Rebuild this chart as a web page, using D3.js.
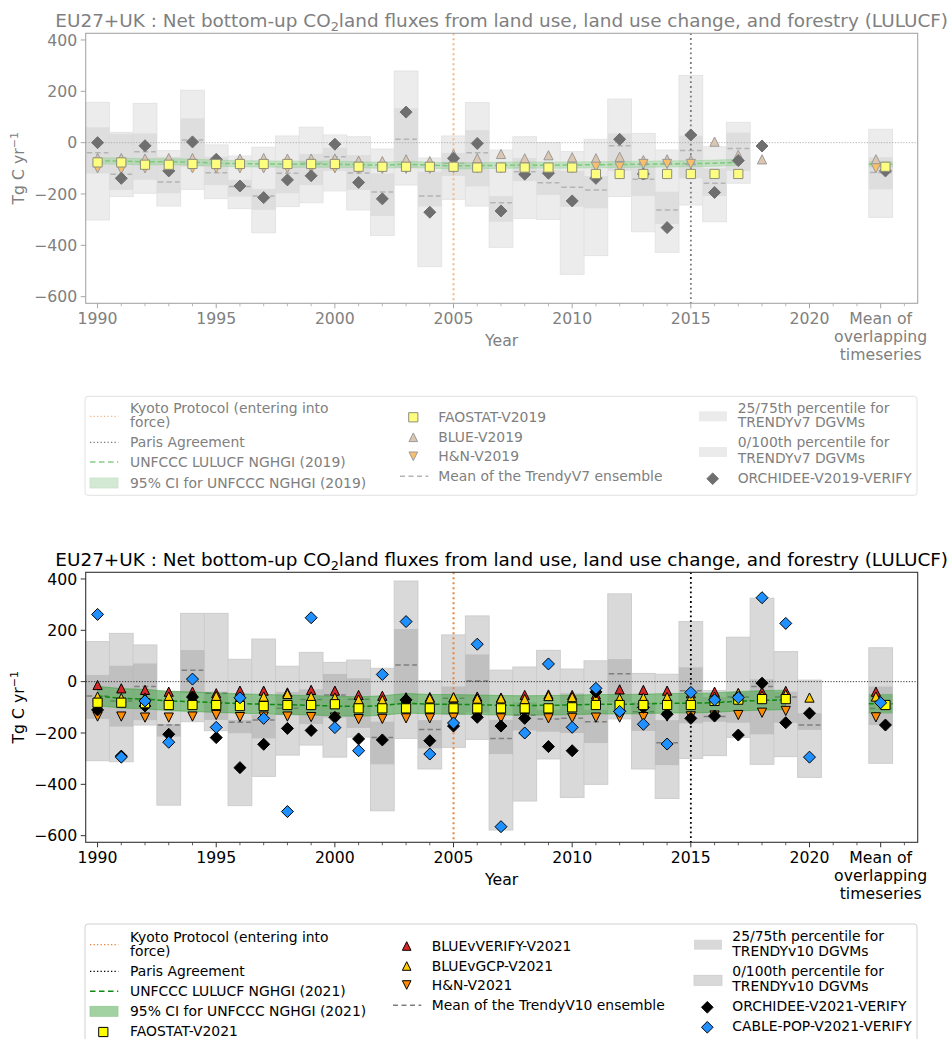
<!DOCTYPE html>
<html><head><meta charset="utf-8">
<script src="https://cdn.jsdelivr.net/npm/d3@7"></script>
<style>body{margin:0;background:#fff;} svg{display:block;font-family:"DejaVu Sans",sans-serif;}</style>
</head><body><svg id="c" width="950" height="1039"></svg>
<script>
// ---------------- DATA ----------------
const years = [1990,1991,1992,1993,1994,1995,1996,1997,1998,1999,2000,2001,2002,2003,2004,2005,2006,2007,2008,2009,2010,2011,2012,2013,2014,2015,2016,2017,2018,2019,2020];
const xTickLabels = ["1990","1995","2000","2005","2010","2015","2020"];
const xTickValues = [1990,1995,2000,2005,2010,2015,2020];
const meanTickLabel = ["Mean of","overlapping","timeseries"];
const yTickValues = [-600,-400,-200,0,200,400];
const meanColumnYear = 2023;
const kyotoYear = 2005, parisYear = 2015;

// Top panel (V2019)
const faostat2019 = [-77,-77,-86,-86,-83,-83,-83,-83,-83,-83,-83,-94,-94,-94,-94,-94,-97,-97,-97,-97,-97,-122,-122,-122,-122,-122,-122,-122,null,null,null];
const blue2019 = [-60,-60,-62,-60,-60,-65,-62,-60,-62,-62,-62,-70,-72,-65,-72,-45,-61,-44,-61,-49,-57,-61,-55,-68,-65,-68,4,-48,-65,null,null];
const hn2019 = [-100,-104,-100,-102,-100,-100,-100,-100,-100,-100,-100,-102,-102,-102,-102,-100,-100,-100,-100,-100,-100,-94,-94,-83,-83,-83,null,null,null,null,null];
const orchidee2019 = [0,-139,-12,-110,3,-65,-169,-214,-145,-129,-6,-155,-219,119,-271,-61,-3,-266,-123,-119,-227,-139,13,-122,-331,30,-194,-70,-13,null,null];
const trendyMean7 = [-39,-123,-35,-153,10,-117,-171,-208,-119,-80,-55,-118,-192,13,-208,-80,-39,-234,-113,-156,-174,-184,-12,-143,-262,-31,-158,-23,null,null,null];
const trendyMin7 = [-301,-210,-197,-247,-182,-218,-257,-351,-249,-234,-188,-262,-362,-165,-483,-221,-247,-408,-295,-299,-513,-440,-210,-347,-427,-243,-308,-158,null,null,null];
const trendyMax7 = [157,40,153,-31,204,-9,-52,-18,26,60,30,23,-25,279,-60,26,156,-29,23,0,-35,13,170,36,-29,262,-16,79,null,null,null];
const trendyP25_7 = [-120,-184,-145,-197,-94,-165,-210,-262,-197,-165,-110,-184,-286,-100,-249,-130,-171,-308,-150,-204,-250,-256,-110,-208,-317,-139,-208,-110,null,null,null];
const trendyP75_7 = [60,35,36,-55,95,-55,-145,-180,-90,-44,-20,-48,-120,134,-113,-40,49,-208,-60,-106,-110,-130,36,-90,-191,27,-100,39,null,null,null];
const unfccc2019 = [-71,-72,-75,-74,-76,-80,-82,-83,-84,-84,-84,-86,-88,-84,-88,-90,-90,-88,-87,-88,-87,-86,-85,-84,-83,-82,-80,-77,null,null,null];
const unfccc2019CI = 12;
// means of overlapping timeseries (V2019)
const overlap2019 = {faostat:-94, blue:-65, hn:-100, orchidee:-110, trendyMean:-116, trendyMin:-291, trendyMax:52, p25:-182, p75:-57, unfccc:-84};

// Bottom panel (V2021)
const faostat2021 = [-82,-82,-84,-91,-91,-91,-95,-95,-91,-91,-88,-104,-104,-104,-104,-104,-104,-104,-104,-104,-100,-91,-91,-91,-91,-91,-75,-70,-68,-68,null];
const blueVerify2021 = [-13,-26,-32,-39,-39,-45,-35,-35,-42,-32,-35,-52,-55,-61,-60,-62,-58,-62,-52,-50,-52,-50,-30,-32,-35,-45,-39,-45,-39,-36,null];
const blueGcp2021 = [-58,-64,-62,-58,-60,-56,-60,-58,-48,-58,-62,-70,-72,-65,-65,-61,-66,-65,-68,-56,-60,-65,-65,-62,-60,-62,-58,-45,-55,-50,-62];
const hn2021 = [-136,-136,-140,-140,-136,-130,-138,-136,-136,-138,-140,-146,-145,-143,-143,-140,-140,-143,-142,-143,-141,-140,-140,-138,-136,-135,-132,-130,-121,-114,null];
const orchidee2021 = [-110,-290,-95,-205,-60,-218,-335,-244,-182,-190,-139,-223,-227,-71,-230,-173,-139,-173,-143,-253,-269,-40,-115,-100,-127,-143,-134,-208,-6,-160,-123];
const cable2021 = [262,-294,-75,-236,10,-178,-63,-143,-506,249,-179,-269,28,234,-282,-161,146,-565,-200,69,-178,-26,-116,-166,-243,-42,-71,-62,327,227,-294];
const trendyMean10 = [-56,-75,-19,-169,44,-45,-158,-149,-104,-70,-52,-69,-218,65,-186,-65,3,-221,-130,-145,-143,-156,31,-117,-238,-35,-136,-60,-19,-60,-169];
const trendyMin10 = [-308,-312,-169,-481,-156,-191,-483,-369,-286,-247,-294,-216,-503,-221,-340,-256,-225,-578,-465,-301,-451,-400,-145,-340,-455,-299,-288,-217,-322,-292,-373];
const trendyMax10 = [156,188,143,-39,266,266,87,166,60,114,75,84,52,392,4,182,256,45,57,122,49,81,342,32,29,234,-35,173,325,117,6];
const trendyP25_10 = [-145,-175,-150,-214,-45,-149,-201,-221,-130,-165,-140,-180,-322,-90,-260,-130,-120,-282,-190,-195,-200,-239,-80,-192,-325,-162,-156,-160,-205,-160,-188];
const trendyP75_10 = [26,62,71,-165,123,-39,-149,-130,-40,-30,30,13,-156,205,-150,-19,106,-149,-80,-110,-45,-110,88,-80,-150,56,-60,-40,9,-39,-123];
const unfccc2021 = [-56,-65,-68,-75,-78,-82,-85,-88,-90,-92,-95,-97,-93,-84,-88,-88,-90,-92,-93,-92,-91,-88,-88,-87,-84,-84,-82,-76,-73,-71,null];
const unfccc2021CI = 38;
const overlap2021 = {faostat:-91, blueVerify:-39, blueGcp:-58, hn:-139, orchidee:-169, cable:-82, trendyMean:-105, trendyMin:-318, trendyMax:132, p25:-169, p75:-19, unfccc:-86};

const titleText = ["EU27+UK : Net bottom-up CO", "2", "land fluxes from land use, land use change, and forestry (LULUCF)"];

// ---------------- DRAWING ----------------
const svg = d3.select("#c");
const L = 85.7, R = 917.7;
const x = d3.scaleLinear().domain([1989.5, 2024.56]).range([L, R]);
const LEG_FS = 13.9;

function sym(shape, r) {
  switch (shape) {
    case 'square': return `M${-r},${-r}H${r}V${r}H${-r}Z`;
    case 'up': return `M0,${-r}L${r},${r}L${-r},${r}Z`;
    case 'down': return `M0,${r}L${r},${-r}L${-r},${-r}Z`;
    case 'diamond': return `M0,${-r}L${r},0L0,${r}L${-r},0Z`;
  }
}
const symR = {square:4.6, up:4.6, down:4.6, diamond:6};

function drawPanel(p) {
  const y = d3.scaleLinear().domain([-625.8, 426]).range([p.bottom, p.top]);
  const g = svg.append("g");
  const st = p.style;
  const idx = years.map((d,i)=>i);
  // boxes
  const boxes = idx.filter(i => p.min[i] != null).map(i => ({yr:years[i], lo:p.min[i], hi:p.max[i], q1:p.p25[i], q3:p.p75[i], m:p.mean[i]}));
  boxes.push({yr:meanColumnYear, lo:p.ov.trendyMin, hi:p.ov.trendyMax, q1:p.ov.p25, q3:p.ov.p75, m:p.ov.trendyMean});
  g.selectAll(null).data(boxes).join("rect")
    .attr("x", d=>x(d.yr-0.5)).attr("width", d=>x(d.yr+0.5)-x(d.yr-0.5))
    .attr("y", d=>y(d.hi)).attr("height", d=>y(d.lo)-y(d.hi))
    .attr("fill", st.box0).attr("stroke", st.box0e).attr("stroke-width", 1);
  g.selectAll(null).data(boxes).join("rect")
    .attr("x", d=>x(d.yr-0.5)).attr("width", d=>x(d.yr+0.5)-x(d.yr-0.5))
    .attr("y", d=>y(d.q3)).attr("height", d=>y(d.q1)-y(d.q3))
    .attr("fill", st.box1).attr("fill-opacity", st.box1o);
  g.selectAll(null).data(boxes).join("line")
    .attr("x1", d=>x(d.yr-0.5)+1).attr("x2", d=>x(d.yr+0.5)-1)
    .attr("y1", d=>y(d.m)).attr("y2", d=>y(d.m))
    .attr("stroke", st.meanLine).attr("stroke-width", 1.5).attr("stroke-dasharray", "5.5,3");
  // zero line
  g.append("line").attr("x1", L).attr("x2", R).attr("y1", y(0)).attr("y2", y(0))
    .attr("stroke", st.zero).attr("stroke-width", 0.8).attr("stroke-dasharray", "1.2,1.6");
  // UNFCCC band + line
  const uIdx = idx.filter(i => p.unfccc[i] != null);
  const area = d3.area().x(i=>x(years[i])).y0(i=>y(p.unfccc[i]-p.ci)).y1(i=>y(p.unfccc[i]+p.ci));
  g.append("path").attr("d", area(uIdx)).attr("fill", st.band).attr("fill-opacity", st.bandO)
    .attr("stroke", st.band).attr("stroke-opacity", st.bandO).attr("stroke-width", 1);
  const line = d3.line().x(i=>x(years[i])).y(i=>y(p.unfccc[i]));
  g.append("path").attr("d", line(uIdx)).attr("fill", "none").attr("stroke", st.green).attr("stroke-width", 1.5).attr("stroke-dasharray", "5,2.5");
  g.append("rect").attr("x", x(meanColumnYear-0.5)).attr("width", x(meanColumnYear+0.5)-x(meanColumnYear-0.5))
    .attr("y", y(p.ov.unfccc+p.ci)).attr("height", y(p.ov.unfccc-p.ci)-y(p.ov.unfccc+p.ci))
    .attr("fill", st.band).attr("fill-opacity", st.bandO);
  g.append("line").attr("x1", x(meanColumnYear-0.5)).attr("x2", x(meanColumnYear+0.5))
    .attr("y1", y(p.ov.unfccc)).attr("y2", y(p.ov.unfccc)).attr("stroke", st.green).attr("stroke-width", 1.5).attr("stroke-dasharray","5,2.5");
  // vertical lines
  g.append("line").attr("x1", x(kyotoYear)).attr("x2", x(kyotoYear)).attr("y1", p.top).attr("y2", p.bottom)
    .attr("stroke", st.kyoto).attr("stroke-width", 2).attr("stroke-dasharray", "2,3");
  g.append("line").attr("x1", x(parisYear)).attr("x2", x(parisYear)).attr("y1", p.top).attr("y2", p.bottom)
    .attr("stroke", st.paris).attr("stroke-width", 1.8).attr("stroke-dasharray", "1.8,3");
  // markers
  p.series.forEach(s => {
    const pts = idx.filter(i => s.vals[i] != null).map(i => ({xv:years[i], v:s.vals[i]}));
    pts.push({xv: meanColumnYear + s.dx, v: s.mean});
    g.selectAll(null).data(pts).join("path")
      .attr("d", sym(s.shape, symR[s.shape]))
      .attr("transform", d => `translate(${x(d.xv)},${y(d.v)})`)
      .attr("fill", s.fill).attr("stroke", s.stroke).attr("stroke-width", 1);
  });
  // frame
  g.append("rect").attr("x", L).attr("y", p.top).attr("width", R-L).attr("height", p.bottom-p.top)
    .attr("fill", "none").attr("stroke", st.frame).attr("stroke-width", 1.1);
  // y ticks
  yTickValues.forEach(v => {
    g.append("line").attr("x1", L-5).attr("x2", L).attr("y1", y(v)).attr("y2", y(v)).attr("stroke", st.frame);
    g.append("text").attr("x", L-8.5).attr("y", y(v)+5.6).attr("text-anchor","end")
      .attr("font-size", 15.7).attr("fill", st.text).text(v < 0 ? "\u2212" + Math.abs(v) : String(v));
  });
  // x ticks
  for (let yr = 1990; yr <= 2024; yr++) {
    const major = xTickValues.includes(yr) || yr === meanColumnYear;
    g.append("line").attr("x1", x(yr)).attr("x2", x(yr)).attr("y1", p.bottom).attr("y2", p.bottom + (major?5:3))
      .attr("stroke", st.frame).attr("stroke-width", major?1:0.8);
  }
  xTickValues.forEach((v,i) => {
    g.append("text").attr("x", x(v)).attr("y", p.bottom+20.8).attr("text-anchor","middle")
      .attr("font-size", 15.7).attr("fill", st.text).text(xTickLabels[i]);
  });
  meanTickLabel.forEach((t,i) => {
    g.append("text").attr("x", x(meanColumnYear)).attr("y", p.bottom+20.8+i*18).attr("text-anchor","middle")
      .attr("font-size", 15.7).attr("fill", st.text).text(t);
  });
  g.append("text").attr("x", (L+R)/2).attr("y", p.bottom+42.5).attr("text-anchor","middle")
    .attr("font-size", 15.7).attr("fill", st.text).text("Year");
  // y label
  const yl = g.append("text").attr("transform", `translate(${24},${(p.top+p.bottom)/2}) rotate(-90)`)
    .attr("text-anchor","middle").attr("font-size", 15.7).attr("fill", st.text);
  yl.append("tspan").text("Tg C yr");
  yl.append("tspan").attr("dy", -6).attr("font-size", 11).text("\u22121");
  // title
  const t = g.append("text").attr("x", (L+R)/2).attr("y", p.top-6.8).attr("text-anchor","middle")
    .attr("font-size", 18.5).attr("fill", st.text);
  t.append("tspan").text(titleText[0]);
  t.append("tspan").attr("dy", 4).attr("font-size", 13).text(titleText[1]);
  t.append("tspan").attr("dy", -4).text(titleText[2]);
  const len = t.node().getComputedTextLength();
  const fs = 18.5 * 893 / len;
  t.attr("font-size", fs);
  t.select("tspan:nth-child(2)").attr("font-size", fs*0.7);

  // legend
  const lg = svg.append("g");
  const lt = p.legendTop;
  lg.append("rect").attr("x", 85).attr("y", lt).attr("width", 832).attr("height", p.legendH)
    .attr("rx", 3).attr("fill", "#fff").attr("stroke", st.legendBorder).attr("stroke-width", 1);
  const txt = (xx, yy, s) => lg.append("text").attr("x", xx).attr("y", yy + 5).attr("font-size", LEG_FS).attr("fill", st.text).text(s);
  p.legendItems.forEach(it => {
    const yy = lt + it.dy;
    if (it.kind === 'line') lg.append("line").attr("x1", it.x).attr("x2", it.x+28.3).attr("y1", yy).attr("y2", yy)
      .attr("stroke", it.color).attr("stroke-width", it.w).attr("stroke-dasharray", it.dash);
    if (it.kind === 'patch') lg.append("rect").attr("x", it.x).attr("y", yy-5).attr("width", 28).attr("height", 10)
      .attr("fill", it.color).attr("fill-opacity", it.op || 1).attr("stroke", it.stroke || "none").attr("stroke-width", 0.8);
    if (it.kind === 'marker') lg.append("path").attr("d", sym(it.shape, it.shape==='diamond'?5.8:(it.shape==='square'?4.6:4.3)))
      .attr("transform", `translate(${it.x},${yy})`).attr("fill", it.fill).attr("stroke", it.stroke).attr("stroke-width", 1);
    if (it.kind === 'text') txt(it.x, yy, it.text);
  });
}

const styleTop = {box0:"#ececec", box0e:"#e4e4e4", box1:"#d4d4d4", box1o:0.55, meanLine:"#b4b4b4", zero:"#a0a0a0",
  band:"#7fcc7f", bandO:0.35, green:"#7acb7a", kyoto:"#f2b88a", paris:"#7a7a7a", frame:"#a6a6a6", text:"#808080", legendBorder:"#e2e2e2"};
const styleBot = {box0:"#d9d9d9", box0e:"#cdcdcd", box1:"#a8a8a8", box1o:0.5, meanLine:"#7f7f7f", zero:"#000",
  band:"#2ca02c", bandO:0.45, green:"#108a10", kyoto:"#e8843c", paris:"#000", frame:"#333", text:"#000", legendBorder:"#d0d0d0"};

const c1 = 90, c2m = 413.3, c2t = 438.3, c3p = 699, c3m = 712.7, c3t = 737.7;
drawPanel({
  top:33.3, bottom:303.3, style:styleTop,
  min:trendyMin7, max:trendyMax7, p25:trendyP25_7, p75:trendyP75_7, mean:trendyMean7,
  unfccc:unfccc2019, ci:unfccc2019CI, ov:overlap2019,
  series:[
    {vals:blue2019, mean:overlap2019.blue, shape:'up', fill:"#dcc6b0", stroke:"#9a9a9a", dx:-0.2},
    {vals:hn2019, mean:overlap2019.hn, shape:'down', fill:"#f9c069", stroke:"#9a9a9a", dx:-0.2},
    {vals:orchidee2019, mean:overlap2019.orchidee, shape:'diamond', fill:"#6f6f6f", stroke:"#6f6f6f", dx:0.2},
    {vals:faostat2019, mean:overlap2019.faostat, shape:'square', fill:"#fdfd80", stroke:"#8e8e7a", dx:0.2},
  ],
  legendTop:396.3, legendH:99,
  legendItems:[
    {kind:'line', x:c1, dy:20, color:"#f2b88a", w:1.3, dash:"1.3,2.2"},
    {kind:'text', x:130, dy:11.7, text:"Kyoto Protocol (entering into"},
    {kind:'text', x:130, dy:26, text:"force)"},
    {kind:'line', x:c1, dy:46, color:"#7a7a7a", w:1.3, dash:"1.3,2.2"},
    {kind:'text', x:130, dy:46, text:"Paris Agreement"},
    {kind:'line', x:c1, dy:65.7, color:"#88cc88", w:1.5, dash:"5.5,3.5"},
    {kind:'text', x:130, dy:65.7, text:"UNFCCC LULUCF NGHGI (2019)"},
    {kind:'patch', x:c1, dy:86.7, color:"#d3e9d3", stroke:"#c8e2c8"},
    {kind:'text', x:130, dy:86.7, text:"95% CI for UNFCCC NGHGI (2019)"},
    {kind:'marker', x:c2m, dy:21, shape:'square', fill:"#fdfd80", stroke:"#8e8e7a"},
    {kind:'text', x:c2t, dy:21, text:"FAOSTAT-V2019"},
    {kind:'marker', x:c2m, dy:41, shape:'up', fill:"#dcc6b0", stroke:"#9a9a9a"},
    {kind:'text', x:c2t, dy:41, text:"BLUE-V2019"},
    {kind:'marker', x:c2m, dy:60, shape:'down', fill:"#f9c069", stroke:"#9a9a9a"},
    {kind:'text', x:c2t, dy:60, text:"H&N-V2019"},
    {kind:'line', x:400, dy:80, color:"#b4b4b4", w:1.4, dash:"5,3.5"},
    {kind:'text', x:c2t, dy:80, text:"Mean of the TrendyV7 ensemble"},
    {kind:'patch', x:c3p, dy:20, color:"#ebebeb"},
    {kind:'text', x:c3t, dy:11.7, text:"25/75th percentile for"},
    {kind:'text', x:c3t, dy:26, text:"TRENDYv7 DGVMs"},
    {kind:'patch', x:c3p, dy:55.7, color:"#ebebeb"},
    {kind:'text', x:c3t, dy:46, text:"0/100th percentile for"},
    {kind:'text', x:c3t, dy:61.7, text:"TRENDYv7 DGVMs"},
    {kind:'marker', x:c3m, dy:82.4, shape:'diamond', fill:"#6f6f6f", stroke:"#6f6f6f"},
    {kind:'text', x:c3t, dy:81.7, text:"ORCHIDEE-V2019-VERIFY"},
  ]
});

const d2m = 406.7, d2t = 431.7, d3p = 694, d3m = 707.3, d3t = 732.3;
drawPanel({
  top:572.3, bottom:842.3, style:styleBot,
  min:trendyMin10, max:trendyMax10, p25:trendyP25_10, p75:trendyP75_10, mean:trendyMean10,
  unfccc:unfccc2021, ci:unfccc2021CI, ov:overlap2021,
  series:[
    {vals:blueVerify2021, mean:overlap2021.blueVerify, shape:'up', fill:"#d62728", stroke:"#000", dx:-0.2},
    {vals:blueGcp2021, mean:overlap2021.blueGcp, shape:'up', fill:"#ffcc00", stroke:"#000", dx:-0.2},
    {vals:hn2021, mean:overlap2021.hn, shape:'down', fill:"#ff8c00", stroke:"#000", dx:-0.2},
    {vals:orchidee2021, mean:overlap2021.orchidee, shape:'diamond', fill:"#000", stroke:"#000", dx:0.2},
    {vals:faostat2021, mean:overlap2021.faostat, shape:'square', fill:"#ffff00", stroke:"#000", dx:0.2},
    {vals:cable2021, mean:overlap2021.cable, shape:'diamond', fill:"#1e90ff", stroke:"#000", dx:0},
  ],
  legendTop:924, legendH:130,
  legendItems:[
    {kind:'line', x:c1, dy:20.7, color:"#e8843c", w:1.3, dash:"1.3,2.2"},
    {kind:'text', x:130, dy:13, text:"Kyoto Protocol (entering into"},
    {kind:'text', x:130, dy:27.3, text:"force)"},
    {kind:'line', x:c1, dy:47.3, color:"#000", w:1.3, dash:"1.3,2.2"},
    {kind:'text', x:130, dy:47.3, text:"Paris Agreement"},
    {kind:'line', x:c1, dy:67.3, color:"#108a10", w:1.6, dash:"5.5,3.5"},
    {kind:'text', x:130, dy:67.3, text:"UNFCCC LULUCF NGHGI (2021)"},
    {kind:'patch', x:c1, dy:87.3, color:"#a2d2a2", stroke:"#96c896"},
    {kind:'text', x:130, dy:87.3, text:"95% CI for UNFCCC NGHGI (2021)"},
    {kind:'marker', x:103.3, dy:108, shape:'square', fill:"#ffff00", stroke:"#000"},
    {kind:'text', x:130, dy:106.7, text:"FAOSTAT-V2021"},
    {kind:'marker', x:d2m, dy:22, shape:'up', fill:"#d62728", stroke:"#000"},
    {kind:'text', x:d2t, dy:21.7, text:"BLUEvVERIFY-V2021"},
    {kind:'marker', x:d2m, dy:42, shape:'up', fill:"#ffcc00", stroke:"#000"},
    {kind:'text', x:d2t, dy:41.7, text:"BLUEvGCP-V2021"},
    {kind:'marker', x:d2m, dy:61, shape:'down', fill:"#ff8c00", stroke:"#000"},
    {kind:'text', x:d2t, dy:60.7, text:"H&N-V2021"},
    {kind:'line', x:393, dy:81.3, color:"#7f7f7f", w:1.4, dash:"5,3.5"},
    {kind:'text', x:d2t, dy:81.3, text:"Mean of the TrendyV10 ensemble"},
    {kind:'patch', x:d3p, dy:20.7, color:"#d9d9d9"},
    {kind:'text', x:d3t, dy:12.3, text:"25/75th percentile for"},
    {kind:'text', x:d3t, dy:27.3, text:"TRENDYv10 DGVMs"},
    {kind:'patch', x:d3p, dy:56.3, color:"#d9d9d9", stroke:"#cccccc"},
    {kind:'text', x:d3t, dy:47.3, text:"0/100th percentile for"},
    {kind:'text', x:d3t, dy:62.3, text:"TRENDYv10 DGVMs"},
    {kind:'marker', x:d3m, dy:83.3, shape:'diamond', fill:"#000", stroke:"#000"},
    {kind:'text', x:d3t, dy:82.3, text:"ORCHIDEE-V2021-VERIFY"},
    {kind:'marker', x:d3m, dy:103.3, shape:'diamond', fill:"#1e90ff", stroke:"#000"},
    {kind:'text', x:d3t, dy:102.3, text:"CABLE-POP-V2021-VERIFY"},
  ]
});
</script></body></html>
